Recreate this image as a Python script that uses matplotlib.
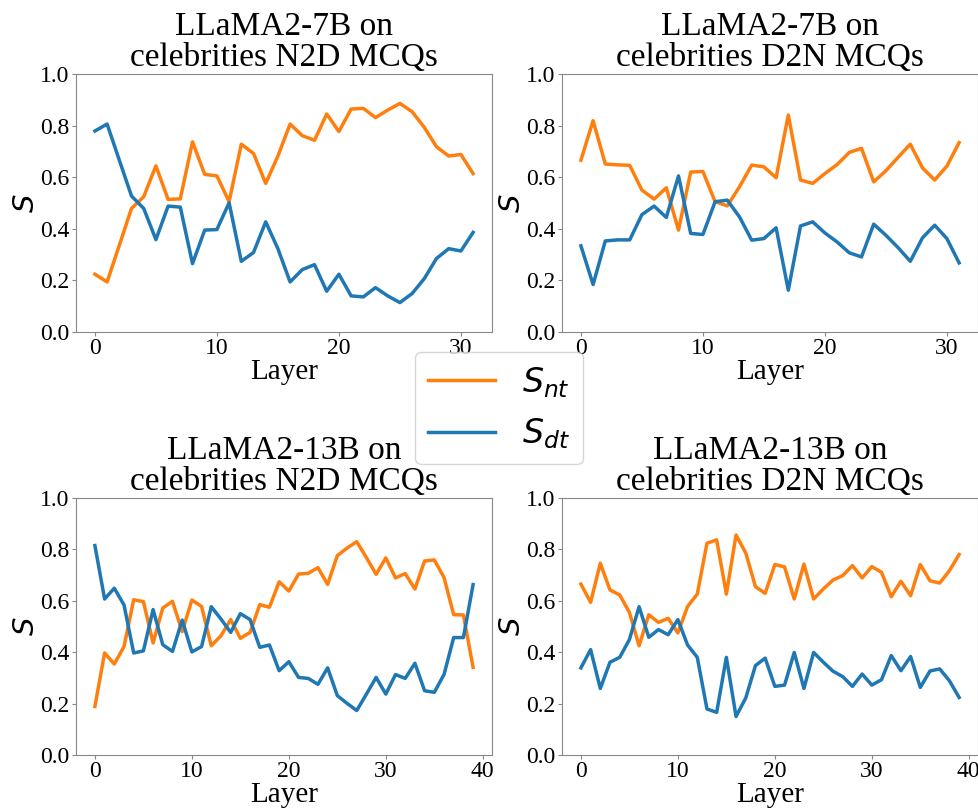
import matplotlib
matplotlib.use("Agg")
import matplotlib.pyplot as plt

plt.rcParams['font.family'] = 'serif'
plt.rcParams['font.serif'] = ['Liberation Serif', 'DejaVu Serif']

# S_nt (orange) and S_dt (blue) per layer
s7_n2d_nt = [0.224, 0.194, 0.336, 0.479, 0.524, 0.644, 0.514, 0.516, 0.737, 0.611,
             0.605, 0.505, 0.728, 0.692, 0.576, 0.682, 0.806, 0.761, 0.743, 0.845,
             0.777, 0.864, 0.867, 0.831, 0.860, 0.886, 0.854, 0.793, 0.718, 0.682,
             0.688, 0.614]
s7_n2d_dt = [0.779, 0.806, 0.666, 0.527, 0.479, 0.358, 0.488, 0.484, 0.265, 0.395,
             0.397, 0.501, 0.274, 0.308, 0.427, 0.323, 0.194, 0.242, 0.261, 0.158,
             0.224, 0.140, 0.136, 0.172, 0.140, 0.114, 0.149, 0.207, 0.285, 0.323,
             0.314, 0.386]

s7_d2n_nt = [0.666, 0.819, 0.651, 0.648, 0.646, 0.550, 0.515, 0.559, 0.395, 0.620,
             0.622, 0.505, 0.489, 0.563, 0.647, 0.640, 0.598, 0.841, 0.589, 0.576,
             0.614, 0.649, 0.696, 0.712, 0.582, 0.625, 0.677, 0.728, 0.636, 0.589,
             0.643, 0.734]
s7_d2n_dt = [0.334, 0.184, 0.353, 0.357, 0.357, 0.455, 0.488, 0.444, 0.605, 0.382,
             0.378, 0.505, 0.511, 0.446, 0.356, 0.362, 0.404, 0.162, 0.411, 0.427,
             0.384, 0.349, 0.307, 0.291, 0.418, 0.375, 0.327, 0.274, 0.365, 0.414,
             0.362, 0.268]

s13_n2d_nt = [0.189, 0.397, 0.354, 0.422, 0.604, 0.597, 0.436, 0.572, 0.598, 0.480,
              0.603, 0.578, 0.425, 0.464, 0.527, 0.454, 0.477, 0.585, 0.575, 0.674,
              0.638, 0.704, 0.707, 0.729, 0.664, 0.776, 0.805, 0.830, 0.768, 0.703,
              0.767, 0.689, 0.706, 0.646, 0.755, 0.759, 0.691, 0.546, 0.545, 0.341]
s13_n2d_dt = [0.815, 0.607, 0.649, 0.584, 0.397, 0.405, 0.566, 0.429, 0.403, 0.525,
              0.401, 0.422, 0.577, 0.529, 0.477, 0.550, 0.527, 0.419, 0.428, 0.328,
              0.363, 0.302, 0.298, 0.275, 0.339, 0.231, 0.201, 0.173, 0.237, 0.302,
              0.237, 0.313, 0.298, 0.357, 0.250, 0.244, 0.313, 0.457, 0.457, 0.663]

s13_d2n_nt = [0.665, 0.594, 0.746, 0.642, 0.623, 0.555, 0.425, 0.546, 0.516, 0.532,
              0.475, 0.578, 0.626, 0.824, 0.837, 0.626, 0.856, 0.786, 0.655, 0.629,
              0.741, 0.732, 0.607, 0.743, 0.607, 0.646, 0.681, 0.698, 0.737, 0.689,
              0.733, 0.711, 0.616, 0.676, 0.620, 0.741, 0.678, 0.669, 0.717, 0.780]
s13_d2n_dt = [0.339, 0.410, 0.259, 0.361, 0.380, 0.449, 0.577, 0.458, 0.488, 0.468,
              0.527, 0.428, 0.380, 0.179, 0.166, 0.380, 0.150, 0.222, 0.348, 0.377,
              0.267, 0.272, 0.399, 0.259, 0.399, 0.361, 0.326, 0.305, 0.267, 0.315,
              0.272, 0.293, 0.387, 0.328, 0.383, 0.263, 0.327, 0.335, 0.289, 0.224]

titles = ["LLaMA2-7B on\ncelebrities N2D MCQs", "LLaMA2-7B on\ncelebrities D2N MCQs",
          "LLaMA2-13B on\ncelebrities N2D MCQs", "LLaMA2-13B on\ncelebrities D2N MCQs"]
panels = [(s7_n2d_nt, s7_n2d_dt), (s7_d2n_nt, s7_d2n_dt),
          (s13_n2d_nt, s13_n2d_dt), (s13_d2n_nt, s13_d2n_dt)]

W, H = 979, 809
fig = plt.figure(figsize=(W / 100, H / 100), dpi=100)

# axes boxes in pixels: left, top, right, bottom
boxes = [(76, 74, 492, 332), (562, 74, 978, 332),
         (76, 498, 492, 755), (562, 498, 978, 755)]

for (l, t, r, b), title, (nt, dt) in zip(boxes, titles, panels):
    ax = fig.add_axes([l / W, 1 - b / H, (r - l) / W, (b - t) / H])
    layers = list(range(len(nt)))
    ax.plot(layers, nt, color='#ff7f0e', lw=2.5, label='$S_{nt}$')
    ax.plot(layers, dt, color='#1f77b4', lw=2.5, label='$S_{dt}$')
    ax.set_ylim(0, 1)
    ax.set_yticks([0, 0.2, 0.4, 0.6, 0.8, 1.0])
    ax.set_xticks(range(0, len(nt) + 1, 10))
    ax.set_title(title, fontsize=24, linespacing=1.0)
    ax.set_xlabel('Layer', fontsize=21, labelpad=0)
    ax.set_ylabel('$S$', fontsize=21, labelpad=0)
    ax.tick_params(labelsize=17, color='#888888', length=3, pad=1.5)
    for sp in ax.spines.values():
        sp.set_color('#888888')

handles, labels = ax.get_legend_handles_labels()
fig.legend(handles, labels, loc='center', bbox_to_anchor=(499 / W, 1 - 408 / H),
           fontsize=24)

fig.savefig('out.png', dpi=100)
